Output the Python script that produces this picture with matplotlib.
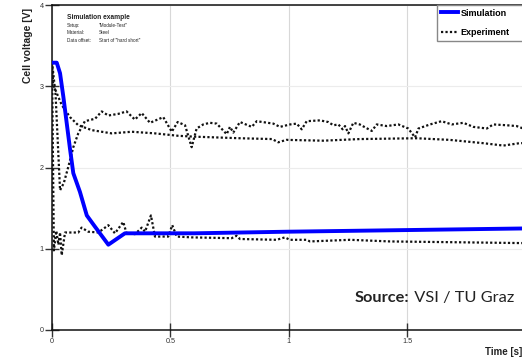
import matplotlib.pyplot as plt
from matplotlib.lines import Line2D
from matplotlib.text import Annotation

# simulation (blue)
sim_t = [0.0, 0.02, 0.034, 0.048, 0.076, 0.09, 0.118, 0.147, 0.182, 0.238, 0.308, 0.6, 1.0, 1.5, 2.0]
sim_v = [3.29, 3.29, 3.16, 2.87, 2.23, 1.93, 1.70, 1.41, 1.27, 1.05, 1.19, 1.19, 1.21, 1.23, 1.25]

# experiment traces (dotted)
exp_a_t = [0.0, 0.005, 0.041, 0.076, 0.111, 0.168, 0.252, 0.337, 0.435, 0.534, 0.597, 0.794,
           0.93, 0.956, 0.99, 1.146, 1.30, 1.54, 1.68, 1.82, 1.907, 1.977, 2.0]
exp_a_v = [3.28, 3.02, 2.77, 2.62, 2.52, 2.46, 2.42, 2.44, 2.42, 2.39, 2.38, 2.36,
           2.35, 2.31, 2.34, 2.33, 2.35, 2.36, 2.34, 2.30, 2.27, 2.30, 2.30]

exp_b_t = [0.0, 0.015, 0.034, 0.05, 0.07, 0.09, 0.111, 0.139, 0.182, 0.21, 0.238, 0.28, 0.315,
           0.35, 0.379, 0.414, 0.47, 0.506, 0.531, 0.562, 0.59, 0.611, 0.639, 0.667, 0.696,
           0.738, 0.752, 0.766, 0.794, 0.844, 0.865, 0.935, 0.963, 1.006, 1.034, 1.055, 1.076,
           1.132, 1.167, 1.189, 1.21, 1.228, 1.238, 1.252, 1.273, 1.30, 1.351, 1.372, 1.414,
           1.463, 1.505, 1.534, 1.548, 1.597, 1.646, 1.689, 1.738, 1.78, 1.837, 1.864, 1.921,
           1.963, 2.0]
exp_b_v = [3.30, 2.90, 1.72, 1.81, 2.02, 2.25, 2.42, 2.57, 2.60, 2.69, 2.64, 2.66, 2.69,
           2.59, 2.67, 2.55, 2.62, 2.44, 2.56, 2.52, 2.25, 2.48, 2.53, 2.55, 2.54,
           2.41, 2.50, 2.43, 2.56, 2.50, 2.57, 2.54, 2.50, 2.53, 2.54, 2.47, 2.57,
           2.58, 2.56, 2.52, 2.53, 2.47, 2.51, 2.42, 2.55, 2.53, 2.45, 2.53, 2.51,
           2.53, 2.48, 2.37, 2.48, 2.53, 2.57, 2.53, 2.55, 2.50, 2.48, 2.53, 2.52,
           2.51, 2.47]

exp_c_t = [0.0, 0.008, 0.018, 0.027, 0.034, 0.041, 0.055, 0.111, 0.125, 0.153, 0.196, 0.238,
           0.266, 0.301, 0.315, 0.351, 0.379, 0.393, 0.418, 0.435, 0.491, 0.508, 0.527, 0.59,
           0.759, 0.78, 0.794, 0.949, 0.984, 1.005, 1.076, 1.09, 1.259, 1.428, 1.71, 1.977, 2.0]
exp_c_v = [3.30, 0.98, 1.22, 1.05, 1.20, 0.92, 1.20, 1.20, 1.26, 1.21, 1.20, 1.29,
           1.19, 1.33, 1.19, 1.18, 1.26, 1.21, 1.41, 1.15, 1.15, 1.29, 1.15, 1.14,
           1.13, 1.16, 1.12, 1.11, 1.14, 1.11, 1.11, 1.09, 1.11, 1.09, 1.08, 1.07, 1.07]

x_ticks = [0, 0.5, 1, 1.5]
x_labels = ['0', '0.5', '1', '1.5']
y_ticks = [0, 1, 2, 3, 4]

info_keys = ['Setup:', 'Material:', 'Data offset:']
info_vals = ['"Module-Test"', 'Steel', 'Start of "hard short"']

plt.rcParams['font.family'] = ['Liberation Sans', 'DejaVu Sans']

W, H = 522, 362
fig = plt.figure(figsize=(W / 100, H / 100), dpi=100)
left, bottom, top = 52 / W, 1 - 330 / H, 1 - 5 / H
# axes stops at the right edge of the picture; the x range is cut there
x_max = (W - 52) / 236.7
ax = fig.add_axes([left, bottom, 1 - left, top - bottom])

dot = (0, (1, 1))
for t, v in [(exp_a_t, exp_a_v), (exp_b_t, exp_b_v), (exp_c_t, exp_c_v)]:
    ax.plot(t, v, color='#111111', lw=1.6, linestyle=dot, zorder=3)
ax.plot(sim_t, sim_v, color='#0000ff', lw=2.8, solid_joinstyle='round',
        solid_capstyle='round', zorder=4)

ax.set_xlim(0, x_max)
ax.set_ylim(0, 4)
ax.set_xticks(x_ticks)
ax.set_xticklabels(x_labels)
ax.set_yticks(y_ticks)
ax.tick_params(direction='inout', length=10, width=1, color='#333333',
               labelsize=5.2, labelcolor='#333333', pad=1)
ax.grid(axis='x', color='#d8d8d8', lw=0.8)
ax.grid(axis='y', color='#ececec', lw=0.8)
ax.set_axisbelow(True)

# only the left spine is kept; top and bottom frame lines drawn as plain lines
ax.spines['left'].set_linewidth(1.1)
ax.spines['left'].set_color('#111111')
for s in ['right', 'top', 'bottom']:
    ax.spines[s].set_visible(False)
for yv in [0, 4]:
    ax.axhline(yv, color='#111111', lw=1.1, clip_on=False, zorder=5)

fig.text(28 / W, 1 - 45 / H, 'Cell voltage [V]', rotation=90, ha='center', va='center',
         fontsize=7.5, fontweight='bold', color='#222222')
fig.text(485 / W, 1 - 352 / H, 'Time [s]', ha='left', va='center',
         fontsize=7, fontweight='bold', color='#222222')

# info block
fig.text(67 / W, 1 - 17.3 / H, 'Simulation example', fontsize=4.8, fontweight='bold',
         va='center', color='#222222')
for i, (k, v) in enumerate(zip(info_keys, info_vals)):
    y = 1 - (25.7 + 7.3 * i) / H
    fig.text(67 / W, y, k, fontsize=3.3, va='center', color='#222222')
    fig.text(99 / W, y, v, fontsize=3.3, va='center', color='#222222')

# source note
src = fig.text(355 / W, 1 - 302 / H, 'Source:', family=['Lato', 'DejaVu Sans'],
               fontsize=11.8, fontweight='bold', color='#222222', va='baseline')
fig.add_artist(Annotation(' VSI / TU Graz', xy=(1, 0), xycoords=src, va='bottom',
                          family=['Lato', 'DejaVu Sans'], fontsize=11.8, color='#222222'))

handles = [Line2D([], [], color='#0000ff', lw=2.8),
           Line2D([], [], color='#111111', lw=1.6, linestyle=dot)]
leg = fig.legend(handles, ['Simulation', 'Experiment'], loc='upper left',
                 bbox_to_anchor=(437 / W, 1 - 42 / H, 0.2, 37 / H), mode='expand',
                 bbox_transform=fig.transFigure, prop={'weight': 'bold', 'size': 6.5},
                 handlelength=1.9, handletextpad=0.3, borderpad=0.4, labelspacing=1.2,
                 borderaxespad=0, fancybox=False, framealpha=1)
leg.get_frame().set_edgecolor('#888888')
leg.get_frame().set_linewidth(1)

fig.savefig('out.png', dpi=100, facecolor='white')
